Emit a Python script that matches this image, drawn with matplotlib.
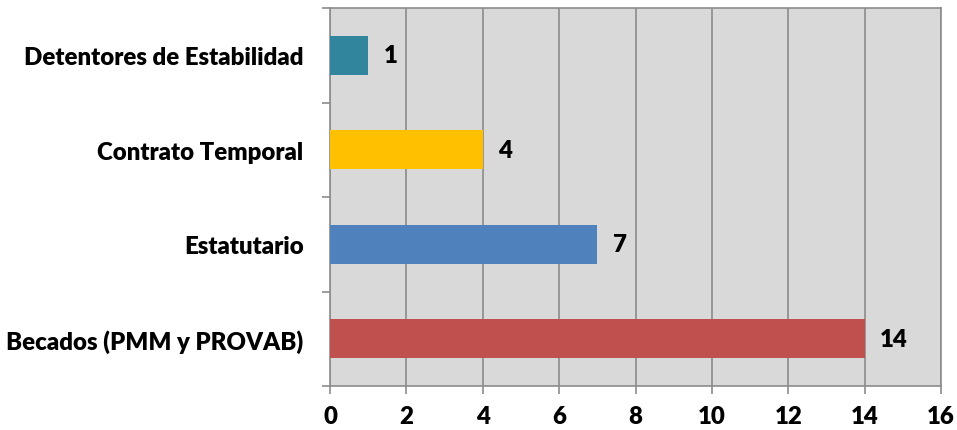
import matplotlib
matplotlib.use("Agg")
import matplotlib.pyplot as plt

categories = ["Becados (PMM y PROVAB)", "Estatutario", "Contrato Temporal", "Detentores de Estabilidad"]
values = [14, 7, 4, 1]
colors = ["#C0504D", "#4F81BD", "#FFC000", "#31859C"]
xticks = [0, 2, 4, 6, 8, 10, 12, 14, 16]

plt.rcParams['font.family'] = ['Lato', 'DejaVu Sans']

FW = "heavy"
FS = 17.3

fig = plt.figure(figsize=(9.57, 4.31), dpi=100)
ax = fig.add_axes([330/957, 1-387/431, (941-330)/957, (387-9)/431])
ax.set_facecolor("#D9D9D9")

ypos = list(range(len(categories)))
ax.barh(ypos, values, height=0.41, color=colors, zorder=3)
for y, v in zip(ypos, values):
    ax.annotate(str(v), xy=(v, y), xytext=(11, 0), textcoords="offset points",
                va="center", ha="left", fontsize=FS, fontweight=FW, zorder=4)

ax.set_xlim(0, 16)
ax.set_ylim(-0.5, len(categories)-0.5)
ax.set_xticks(xticks)
ax.set_xticklabels([str(t) for t in xticks], fontsize=FS, fontweight=FW)
ax.set_yticks(ypos)
ax.set_yticklabels(categories, fontsize=FS, fontweight=FW)
ax.set_yticks([i - 0.5 for i in range(len(categories)+1)], minor=True)
ax.tick_params(axis="y", which="major", length=0, pad=19)
ax.tick_params(axis="y", which="minor", length=6, color="#8C8C8C", width=1.2)
ax.tick_params(axis="x", length=6, color="#8C8C8C", width=1.2, pad=8)
ax.grid(axis="x", color="#8C8C8C", linewidth=1.2, zorder=1)
for s in ax.spines.values():
    s.set_color("#8C8C8C")
    s.set_linewidth(1.2)
ax.set_axisbelow(True)

fig.savefig("out.png", dpi=100)
